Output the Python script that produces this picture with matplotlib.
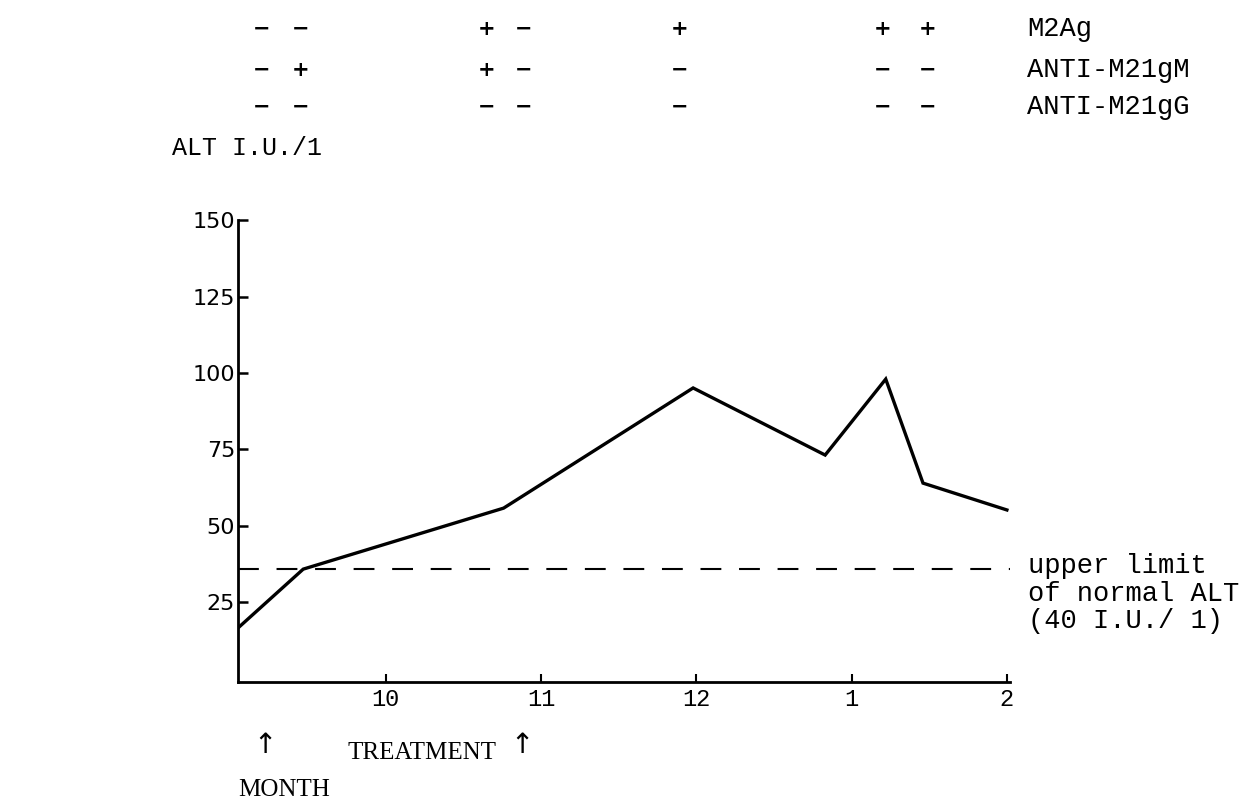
import matplotlib
matplotlib.use("Agg")
import matplotlib.pyplot as plt
from matplotlib.transforms import blended_transform_factory

# ALT readings (month number, Jan/Feb continue as 13/14)
months = [9.05, 9.47, 10.76, 11.98, 12.83, 13.22, 13.46, 14.0]
alt = [16.4, 35.7, 55.7, 95.1, 73.1, 98.0, 63.9, 55.1]
upper_normal = 35.7

month_ticks = [10, 11, 12, 13, 14]
month_labels = ['10', '11', '12', '1', '2']
alt_ticks = [25, 50, 75, 100, 125, 150]

# serology table above the plot
sample_months = [9.2, 9.45, 10.65, 10.89, 11.89, 13.2, 13.49]
row_names = ['M2Ag', 'ANTI-M21gM', 'ANTI-M21gG']
row_signs = [
    ['−', '−', '+', '−', '+', '+', '+'],
    ['−', '+', '+', '−', '−', '−', '−'],
    ['−', '−', '−', '−', '−', '−', '−'],
]

mono = ['Liberation Mono', 'DejaVu Sans Mono']
serif = ['Liberation Serif', 'DejaVu Serif']

fig = plt.figure(figsize=(12.44, 8.05), dpi=100)
ax = fig.add_axes([0.1913, 0.1528, 0.6206, 0.5733])

ax.plot(months, alt, color='black', lw=2.4, solid_joinstyle='miter')
ax.axhline(upper_normal, color='black', lw=1.5, dashes=(10, 8.5))

ax.set_xlim(9.05, 14.02)
ax.set_ylim(-1.3, 150)
ax.spines['top'].set_visible(False)
ax.spines['right'].set_visible(False)
ax.spines['left'].set_linewidth(2)
ax.spines['bottom'].set_linewidth(2)

ax.set_yticks(alt_ticks)
ax.set_yticklabels([str(t) for t in alt_ticks], family='DejaVu Sans', fontsize=16)
ax.tick_params(axis='y', direction='in', length=7, width=1.8, pad=2)
ax.set_xticks(month_ticks)
ax.set_xticklabels(month_labels, family=mono, fontsize=17)
ax.tick_params(axis='x', direction='in', length=6, width=1.5, pad=4)

# right-hand note on the dashed line
fig.text(1028 / 1244, 1 - 553 / 805, 'upper limit\nof normal ALT\n(40 I.U./ 1)',
         family=mono, fontsize=19.5, va='top', ha='left', linespacing=1.08)

# y label
fig.text(172 / 1244, 1 - 148 / 805, 'ALT I.U./1', family=mono, fontsize=18,
         va='center', ha='left')

# serology rows
tr = blended_transform_factory(ax.transData, fig.transFigure)
row_y = [1 - 29 / 805, 1 - 70 / 805, 1 - 107 / 805]
for y, name, signs in zip(row_y, row_names, row_signs):
    for m, s in zip(sample_months, signs):
        ax.text(m, y, s, transform=tr, family='DejaVu Sans', fontsize=15,
                fontweight='bold', ha='center', va='center')
    fig.text(1027 / 1244, y, name, family=mono, fontsize=19.5, ha='left', va='center')

# bottom annotations
fig.text(265 / 1244, 1 - 745 / 805, '\u2191', family=['DejaVu Sans'], fontsize=20,
         ha='center', va='center')
fig.text(522 / 1244, 1 - 745 / 805, '\u2191', family=['DejaVu Sans'], fontsize=20,
         ha='center', va='center')
fig.text(347 / 1244, 1 - 753 / 805, 'TREATMENT', family=serif, fontsize=18,
         ha='left', va='center')
fig.text(238 / 1244, 1 - 790 / 805, 'MONTH', family=serif, fontsize=18,
         ha='left', va='center')

fig.savefig('out.png', dpi=100)
